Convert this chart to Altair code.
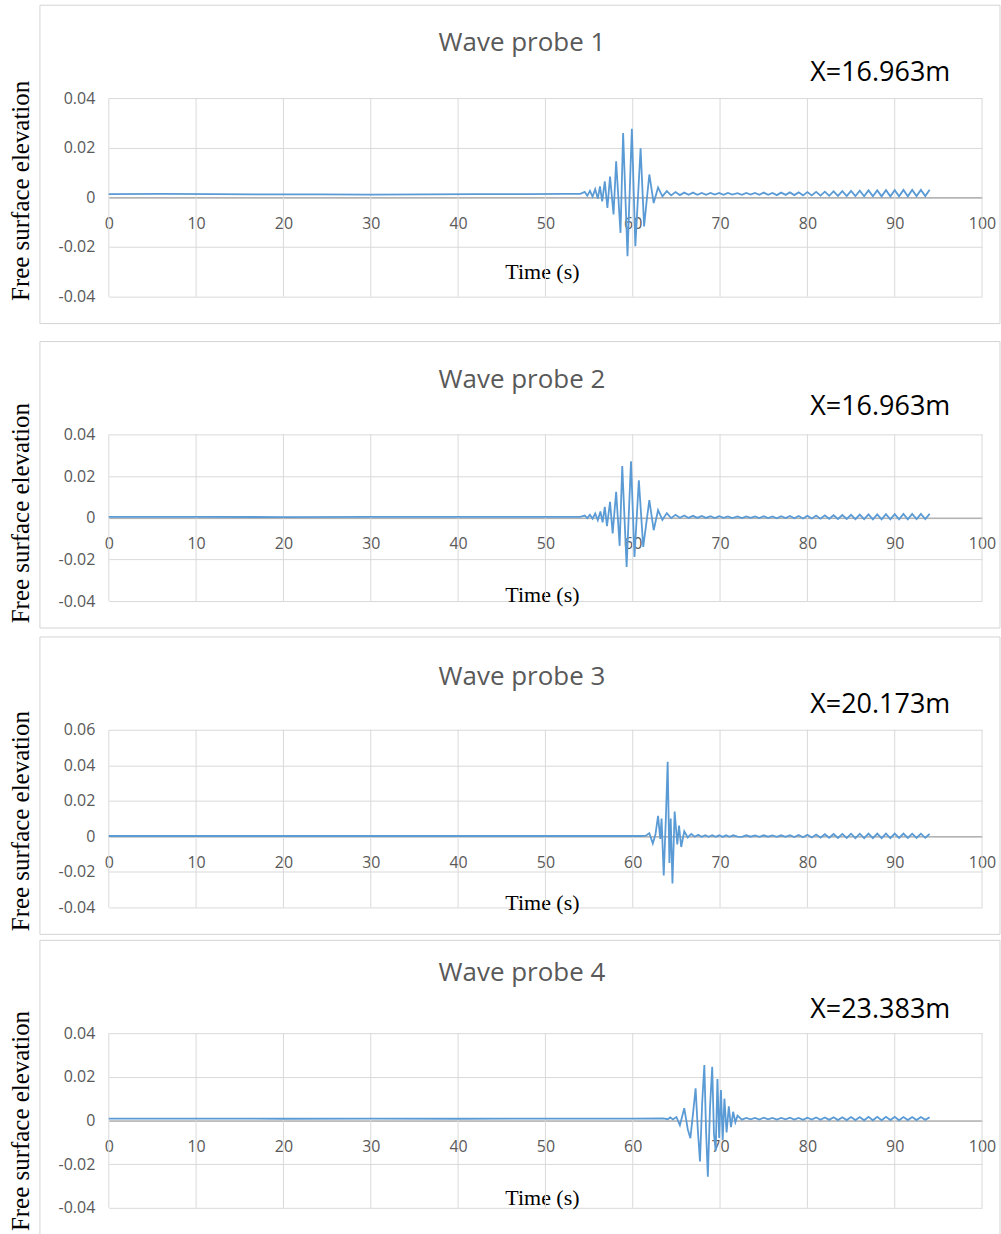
import altair as alt
import pandas as pd

# ---------------- data ----------------
x_ticks = [0, 10, 20, 30, 40, 50, 60, 70, 80, 90, 100]
y_ticks_std = [-0.04, -0.02, 0.0, 0.02, 0.04]
y_ticks_p3 = [-0.04, -0.02, 0.0, 0.02, 0.04, 0.06]

titles = ["Wave probe 1", "Wave probe 2", "Wave probe 3", "Wave probe 4"]
locations = ["X=16.963m", "X=16.963m", "X=20.173m", "X=23.383m"]

# (time s, elevation m) up to 72 s
p1_main = [(0, 0.0013), (6, 0.0014), (12, 0.0013), (18, 0.0012), (24, 0.0012), (30, 0.0011),
           (36, 0.0012), (42, 0.0013), (48, 0.0013), (52, 0.0014), (54.0, 0.0014), (54.5, 0.0022),
           (54.8, 0.0006), (55.1, 0.0026), (55.4, 0.0003), (55.7, 0.0033), (56.0, -0.0005),
           (56.25, 0.0044), (56.5, -0.0016), (56.8, 0.0064), (57.1, -0.0043), (57.4, 0.0084),
           (57.8, -0.0069), (58.1, 0.0145), (58.6, -0.0143), (58.9, 0.0259), (59.4, -0.0237),
           (59.9, 0.0276), (60.3, -0.0197), (60.9, 0.0198), (61.3, -0.0117), (61.9, 0.0092),
           (62.4, -0.0023), (62.9, 0.0040), (63.4, 0.0004), (63.9, 0.0025), (64.4, 0.0008),
           (64.9, 0.0021), (65.4, 0.0009), (65.9, 0.0019), (66.4, 0.0010), (66.9, 0.0019),
           (67.4, 0.0010), (67.9, 0.0018), (68.4, 0.0010), (68.9, 0.0018), (69.4, 0.0011),
           (69.9, 0.0018), (70.4, 0.0010), (70.9, 0.0018), (71.4, 0.0011), (72.0, 0.0017)]

p2_main = [(0, 0.0004), (10, 0.0004), (20, 0.0003), (30, 0.0004), (40, 0.0004), (50, 0.0004),
           (54.0, 0.0004), (54.5, 0.0010), (54.8, -0.0002), (55.1, 0.0014), (55.4, -0.0005),
           (55.7, 0.0020), (56.0, -0.0012), (56.3, 0.0030), (56.55, -0.0022), (56.8, 0.0052),
           (57.05, -0.0040), (57.4, 0.0076), (57.7, -0.0075), (58.1, 0.0124), (58.5, -0.0135),
           (58.8, 0.0248), (59.3, -0.0236), (59.8, 0.0271), (60.2, -0.0188), (60.7, 0.0180),
           (61.2, -0.0140), (61.9, 0.0084), (62.4, -0.0060), (62.9, 0.0036), (63.4, -0.0010),
           (63.9, 0.0022), (64.4, -0.0002), (64.9, 0.0014), (65.4, 0.0000), (65.9, 0.0011),
           (66.4, -0.0001), (66.9, 0.0009), (67.4, -0.0001), (67.9, 0.0008), (68.4, -0.0001),
           (68.9, 0.0007), (69.4, -0.0002), (69.9, 0.0007), (70.4, -0.0001), (70.9, 0.0006),
           (71.4, -0.0002), (72.0, 0.0006)]

p3_main = [(0, 0.0002), (10, 0.0002), (20, 0.0002), (30, 0.0002), (40, 0.0002), (50, 0.0002),
           (61.0, 0.0002), (61.5, 0.0004), (61.9, 0.0018), (62.3, -0.0040), (62.6, 0.0010),
           (62.9, 0.0115), (63.15, -0.0015), (63.3, 0.0100), (63.55, -0.0220), (63.8, 0.0110),
           (64.0, 0.0420), (64.2, -0.0150), (64.35, 0.0100), (64.55, -0.0265), (64.8, 0.0140),
           (65.1, -0.0045), (65.3, 0.0060), (65.55, -0.0060), (65.9, 0.0028), (66.3, -0.0006),
           (66.7, 0.0014), (67.1, -0.0002), (67.5, 0.0009), (67.9, -0.0002), (68.3, 0.0007),
           (68.7, -0.0002), (69.1, 0.0007), (69.5, -0.0002), (69.9, 0.0006), (70.3, -0.0003),
           (70.7, 0.0006), (71.1, -0.0002), (71.5, 0.0006), (72.0, -0.0002)]

p4_main = [(0, 0.0009), (10, 0.0009), (20, 0.0008), (30, 0.0009), (40, 0.0008), (50, 0.0009),
           (60, 0.0009), (63.5, 0.0010), (64.0, 0.0006), (64.3, 0.0014), (64.6, 0.0005),
           (65.0, 0.0016), (65.4, -0.0022), (65.9, 0.0056), (66.3, -0.0040), (66.6, -0.0081),
           (66.9, 0.0030), (67.2, 0.0147), (67.45, -0.0040), (67.7, -0.0188), (67.95, 0.0080),
           (68.2, 0.0254), (68.4, -0.0050), (68.6, -0.0257), (68.85, 0.0060), (69.1, 0.0246),
           (69.3, -0.0060), (69.5, -0.0140), (69.7, 0.0190), (69.9, -0.0080), (70.1, 0.0140),
           (70.3, -0.0090), (70.5, 0.0100), (70.75, -0.0055), (71.0, 0.0065), (71.25, -0.0030),
           (71.5, 0.0040), (71.75, -0.0008), (72.0, 0.0022)]

# residual ripple 72.5 s .. 94 s
tail_t = [72.5, 73.0, 73.5, 74.0, 74.5, 75.0, 75.5, 76.0, 76.5, 77.0, 77.5, 78.0, 78.5, 79.0,
          79.5, 80.0, 80.5, 81.0, 81.5, 82.0, 82.5, 83.0, 83.5, 84.0, 84.5, 85.0, 85.5, 86.0,
          86.5, 87.0, 87.5, 88.0, 88.5, 89.0, 89.5, 90.0, 90.5, 91.0, 91.5, 92.0, 92.5, 93.0,
          93.5, 94.0]
p1_tail = [0.0010, 0.0018, 0.0011, 0.0018, 0.0010, 0.0019, 0.0010, 0.0018, 0.0009, 0.0019,
           0.0010, 0.0020, 0.0009, 0.0020, 0.0008, 0.0021, 0.0008, 0.0022, 0.0007, 0.0023,
           0.0006, 0.0024, 0.0006, 0.0025, 0.0005, 0.0026, 0.0005, 0.0027, 0.0004, 0.0028,
           0.0004, 0.0028, 0.0004, 0.0029, 0.0004, 0.0029, 0.0004, 0.0030, 0.0004, 0.0030,
           0.0005, 0.0030, 0.0005, 0.0031]
p2_tail = [-0.0002, 0.0006, -0.0001, 0.0006, -0.0002, 0.0007, -0.0002, 0.0006, -0.0003, 0.0007,
           -0.0002, 0.0008, -0.0003, 0.0008, -0.0004, 0.0009, -0.0004, 0.0010, -0.0005, 0.0011,
           -0.0005, 0.0012, -0.0006, 0.0013, -0.0006, 0.0014, -0.0007, 0.0015, -0.0007, 0.0016,
           -0.0008, 0.0016, -0.0008, 0.0017, -0.0008, 0.0017, -0.0008, 0.0018, -0.0008, 0.0018,
           -0.0007, 0.0018, -0.0007, 0.0018]
p3_tail = [-0.0003, 0.0006, -0.0002, 0.0005, -0.0003, 0.0006, -0.0002, 0.0005, -0.0003, 0.0006,
           -0.0003, 0.0007, -0.0004, 0.0008, -0.0005, 0.0009, -0.0006, 0.0010, -0.0007, 0.0012,
           -0.0008, 0.0013, -0.0009, 0.0014, -0.0009, 0.0015, -0.0010, 0.0015, -0.0010, 0.0016,
           -0.0010, 0.0016, -0.0010, 0.0016, -0.0010, 0.0016, -0.0009, 0.0016, -0.0009, 0.0015,
           -0.0009, 0.0015, -0.0008, 0.0014]
p4_tail = [0.0004, 0.0012, 0.0005, 0.0012, 0.0004, 0.0013, 0.0005, 0.0012, 0.0004, 0.0012,
           0.0005, 0.0013, 0.0004, 0.0012, 0.0003, 0.0013, 0.0004, 0.0014, 0.0003, 0.0014,
           0.0003, 0.0015, 0.0002, 0.0015, 0.0002, 0.0016, 0.0002, 0.0016, 0.0001, 0.0017,
           0.0001, 0.0017, 0.0001, 0.0017, 0.0002, 0.0017, 0.0001, 0.0016, 0.0002, 0.0016,
           0.0002, 0.0016, 0.0003, 0.0015]

# ---------------- styling ----------------
LINE = "#5b9bd5"
GRID = "#d9d9d9"
SANS = "Open Sans"
SERIF = "Liberation Serif"
PLOT_W = 875

LABEL_EXPR = ("datum.value == 0 ? '0' : (datum.value < 0 ? '-' : '') + "
              "format(abs(datum.value), '.2f')")


def panel(i, main, tail, ydom, yticks, h, title_dy, loc_dy, xtitle_dy, ytitle_shift):
    df = pd.DataFrame(main + list(zip(tail_t, tail)), columns=["t", "v"])
    xs = alt.Scale(domain=[0, 100], nice=False, zero=False)
    ys = alt.Scale(domain=ydom, nice=False, zero=False)
    zero_off = h * (0 - ydom[0]) / (ydom[1] - ydom[0])

    x_axis = alt.Axis(
        values=x_ticks, offset=-zero_off, grid=False, ticks=False, tickSize=0,
        domainColor="#b3b3b3", domainWidth=1.5, labelFlush=False,
        labelFont=SANS, labelFontSize=16, labelColor="#595959", labelPadding=18,
        title="Time (s)", titleFont=SERIF, titleFontSize=22, titleFontWeight="normal",
        titleColor="black", titleBaseline="middle", titleX=434, titleY=xtitle_dy)
    y_axis = alt.Axis(
        values=yticks, grid=True, gridColor=GRID, domain=False, ticks=False, tickSize=0,
        labelFont=SANS, labelFontSize=16, labelColor="#595959", labelPadding=14,
        labelExpr=LABEL_EXPR,
        title="Free surface elevation", titleFont=SERIF, titleFontSize=25,
        titleFontWeight="normal", titleColor="black", titleBaseline="middle",
        titleX=-88, titleY=h / 2 + ytitle_shift)

    frame = alt.Chart(pd.DataFrame({"k": [0]})).mark_rect(
        filled=False, stroke="#d4d4d4", strokeWidth=1
    ).encode(x=alt.value(-69), x2=alt.value(PLOT_W + 18),
             y=alt.value(-93), y2=alt.value(h + 27))

    vgrid = alt.Chart(pd.DataFrame({"t": x_ticks})).mark_rule(
        color=GRID, strokeWidth=1
    ).encode(x=alt.X("t:Q", scale=xs, axis=x_axis))

    line = alt.Chart(df).mark_line(color=LINE, strokeWidth=1.8).encode(
        x=alt.X("t:Q", scale=xs, axis=x_axis),
        y=alt.Y("v:Q", scale=ys, axis=y_axis),
    )

    ttl = alt.Chart(pd.DataFrame({"s": [titles[i]]})).mark_text(
        font=SANS, fontSize=26, color="#595959", align="center", baseline="middle"
    ).encode(text="s:N", x=alt.value(414), y=alt.value(title_dy))

    loc = alt.Chart(pd.DataFrame({"s": [locations[i]]})).mark_text(
        font=SANS, fontSize=27, color="black", align="center", baseline="middle"
    ).encode(text="s:N", x=alt.value(773), y=alt.value(loc_dy))

    return alt.layer(frame, vgrid, line, ttl, loc).properties(width=PLOT_W, height=h)


c1 = panel(0, p1_main, p1_tail, [-0.04, 0.04], y_ticks_std, 199, -55, -25, 74, -7)
c2 = panel(1, p2_main, p2_tail, [-0.04, 0.04], y_ticks_std, 167, -54, -27, 77, -5)
c3 = panel(2, p3_main, p3_tail, [-0.04, 0.06], y_ticks_p3, 178, -53, -25, 66, 2)
c4 = panel(3, p4_main, p4_tail, [-0.04, 0.04], y_ticks_std, 175, -60, -23, 77, 0)

chart = alt.vconcat(
    alt.vconcat(c1, c2, spacing=16),
    alt.vconcat(c3, c4, spacing=4),
    spacing=7,
).properties(
    padding={"left": 8, "top": 3, "right": 0, "bottom": 0},
    background="white",
).configure_view(stroke=None)

chart.save("out.html", embed_options={"renderer": "svg", "actions": False})
